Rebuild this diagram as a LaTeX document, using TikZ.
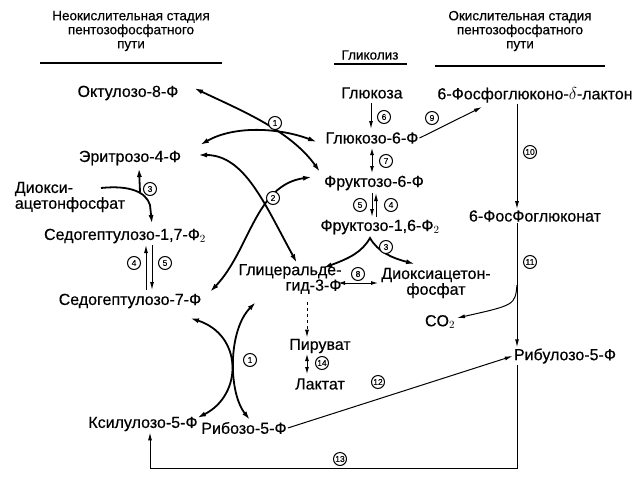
\documentclass[tikz,border=0pt]{standalone}
\usepackage{fontspec}
\setmainfont{Liberation Sans}[FakeBold=0.4]
\usetikzlibrary{arrows.meta}
\begin{document}
\begin{tikzpicture}[x=1pt,y=-1pt,
  lbl/.style={font=\fontsize{16}{14}\selectfont,inner sep=1pt},
  hdr/.style={font=\fontsize{13.5}{14}\selectfont,align=center,inner sep=0pt},
  num/.style={circle,draw,line width=1pt,fill=white,inner sep=0pt,minimum size=13pt,font=\fontsize{8.5}{9}\selectfont},
  ar/.style={line width=1.8pt,-{Latex[length=9pt,width=5pt]}},
  ar2/.style={line width=1.8pt,{Latex[length=9pt,width=5pt]}-{Latex[length=9pt,width=5pt]}},
  thin/.style={line width=1pt,-{Latex[length=8pt,width=4pt]}},
  thin2/.style={line width=1pt,{Latex[length=7pt,width=4pt]}-{Latex[length=7pt,width=4pt]}}]
\useasboundingbox (0,0) rectangle (642,479);
% headers
\node[hdr] (h1) at (131,31) {Неокислительная стадия\\пентозофосфатного\\пути};
\node[hdr] (h2) at (370,55) {Гликолиз};
\node[hdr] (h3) at (520,31) {Окислительная стадия\\пентозофосфатного\\пути};
\draw[line width=1.2pt] (40,63) -- (222,63);
\draw[line width=1.2pt] (334,64) -- (407,64);
\draw[line width=1.2pt] (435,66) -- (605,66);
% nodes
\node[lbl] (okt) at (128,93) {Октулозо-8-Ф};
\node[lbl] (glz) at (372,93) {Глюкоза};
\node[lbl] (lak) at (535,95) {6-Фосфоглюконо-$\delta$-лактон};
\node[lbl] (g6f) at (372,138) {Глюкозо-6-Ф};
\node[lbl] (e4f) at (130,158) {Эритрозо-4-Ф};
\node[lbl] (f6f) at (374,183) {Фруктозо-6-Ф};
\node[lbl,align=left] (dap1) at (70,197) {Диокси-\\ацетонфосфат};
\node[lbl] (s17) at (125,236) {Седогептулозо-1,7-Ф$_2$};
\node[lbl] (f16) at (380,227) {Фруктозо-1,6-Ф$_2$};
\node[lbl] (pgl) at (535,216) {6-ФосФоглюконат};
\node[lbl,align=right] (gap) at (290,279) {Глицеральде-\\гид-3-Ф};
\node[lbl,align=center] (dap2) at (436,283) {Диоксиацетон-\\фосфат};
\node[lbl] (s7f) at (130,301) {Седогептулозо-7-Ф};
\node[lbl] (co2) at (440,322) {CO$_2$};
\node[lbl] (pir) at (320,346) {Пируват};
\node[lbl] (rbu) at (565,356) {Рибулозо-5-Ф};
\node[lbl] (lac) at (320,384) {Лактат};
\node[lbl] (xyl) at (143,424) {Ксилулозо-5-Ф};
\node[lbl] (rib) at (244,428) {Рибозо-5-Ф};
% cross 1 top
\coordinate (o1) at (194,88);
\coordinate (f1) at (320,172);
\coordinate (e1) at (200,145);
\coordinate (g1) at (317,142);
\draw[ar2] (o1) .. controls (240,110) and (290,130) .. (f1);
\draw[ar2] (e1) .. controls (235,125) and (280,128) .. (g1);
\node[num] (n1a) at (275,123) {1};
% cross 2
\coordinate (e2) at (198,155);
\coordinate (gp2) at (297,263);
\coordinate (s2) at (210,292);
\coordinate (f2) at (312,177);
\draw[ar2] (e2) .. controls (245,155) and (265,205) .. (gp2);
\draw[ar2] (s2) .. controls (250,250) and (255,185) .. (f2);
\node[num] (n2a) at (273,198) {2};
% left 3
\coordinate (dd) at (101,188);
\coordinate (d3) at (150,205);
\coordinate (s3) at (152,224);
\coordinate (e3) at (139,168);
\draw[line width=1.8pt] (dd) .. controls (130,185) and (146,192) .. (d3);
\draw[ar] (d3) -- (s3);
\draw[ar] (140,192) -- (e3);
\node[num] (n3a) at (150,189) {3};
% 4 5 left
\coordinate (l4a) at (146,290);
\coordinate (l4b) at (146,245);
\coordinate (l5a) at (152,245);
\coordinate (l5b) at (152,290);
\draw[thin] (l4a) -- (l4b);
\draw[thin] (l5a) -- (l5b);
\node[num] (n4a) at (134,263) {4};
\node[num] (n5a) at (165,263) {5};
% glycolysis
\coordinate (a6a) at (371,103);
\coordinate (a6b) at (371,129);
\draw[thin] (a6a) -- (a6b);
\node[num] (n6) at (384,117) {6};
\coordinate (a7a) at (372,148);
\coordinate (a7b) at (372,173);
\draw[thin2] (a7a) -- (a7b);
\node[num] (n7) at (386,161) {7};
\draw[thin] (372,193) -- (372,217);
\draw[thin] (376,217) -- (376,193);
\node[num] (n5b) at (360,205) {5};
\node[num] (n4b) at (391,205) {4};
\coordinate (f3) at (370,238);
\coordinate (g3) at (323,268);
\coordinate (d3b) at (415,264);
\draw[line width=1.8pt,{Latex[length=9pt,width=5pt]}-{Latex[length=9pt,width=5pt]}] (g3) .. controls (350,258) and (362,252) .. (f3) .. controls (378,252) and (392,258) .. (d3b);
\node[num] (n3b) at (386,247) {3};
\coordinate (g8) at (338,283);
\coordinate (d8) at (378,283);
\draw[thin2] (g8) -- (d8);
\node[num] (n8) at (358,274) {8};
\draw[line width=1pt,dashed,-{Latex[length=8pt,width=4pt]}] (307,302) -- (pir.north -| 307,0);
\draw[thin2] (307,354) -- (307,374);
\node[num] (n14) at (322,363) {14};
% cross 1 bottom
\coordinate (s4) at (190,318);
\coordinate (x4) at (197,418);
\coordinate (gp4) at (256,302);
\coordinate (r4) at (250,420);
\draw[ar2] (s4) .. controls (243,335) and (243,395) .. (x4);
\draw[ar2] (gp4) .. controls (228,330) and (228,392) .. (r4);
\node[num] (n1b) at (250,360) {1};
% oxidative
\coordinate (l9) at (482,107);
\draw[thin] (g6f.east) -- (l9);
\node[num] (n9) at (432,118) {9};
\draw[thin] (lak.south -| 517,0) -- (pgl.north -| 517,0);
\node[num] (n10) at (530,152) {10};
\draw[thin] (pgl.south -| 517,0) -- (rbu.north -| 517,0);
\node[num] (n11) at (530,262) {11};
\coordinate (c2) at (457,318);
\draw[thin] (517,285) .. controls (515,305) .. (c2);
\draw[thin] (rib.east) -- (rbu.west);
\node[num] (n12) at (378,382) {12};
\draw[thin] (rbu.south -| 517,0) |- (150,468) -- (xyl.south -| 150,0);
\node[num] (n13) at (340,459) {13};
\end{tikzpicture}
\end{document}
